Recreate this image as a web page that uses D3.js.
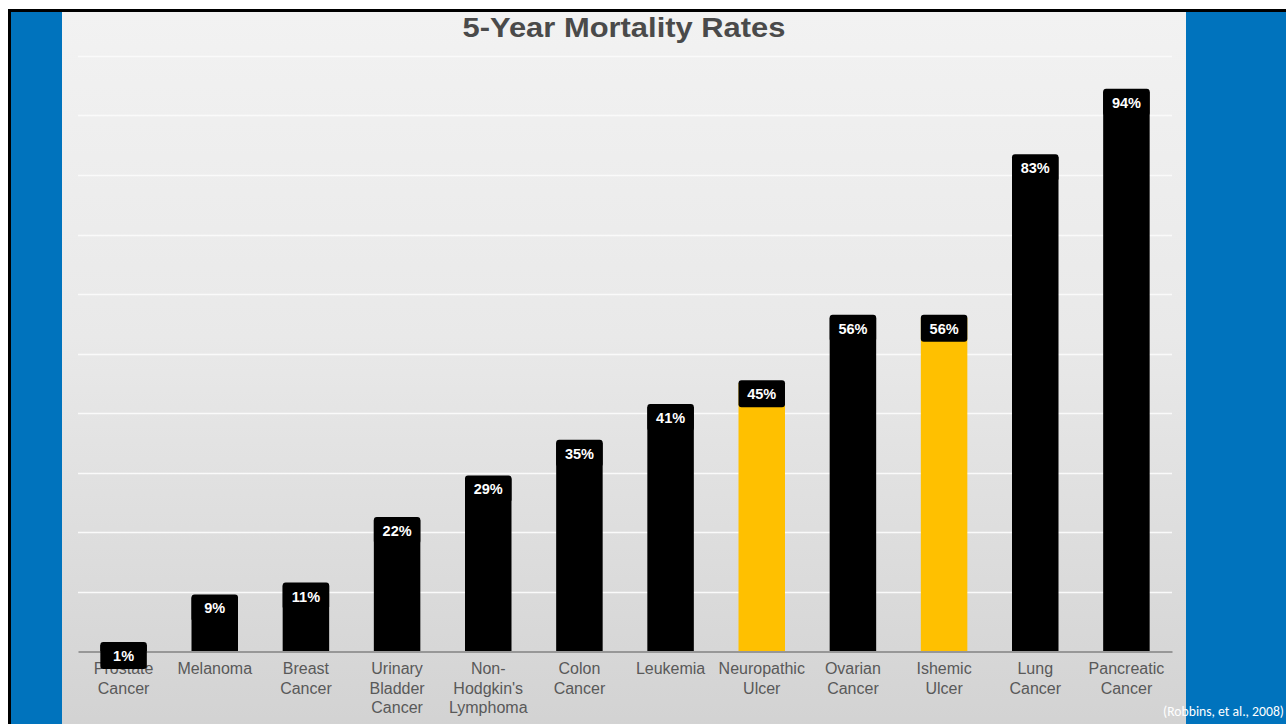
<!DOCTYPE html>
<html>
<head>
<meta charset="utf-8">
<script src="https://cdnjs.cloudflare.com/ajax/libs/d3/7.8.5/d3.min.js"></script>
<style>
  html, body { margin: 0; padding: 0; background: #fff; }
  svg { display: block; }
</style>
</head>
<body>
<div id="chart"></div>
<script>
const categories = ['Prostate\nCancer', 'Melanoma', 'Breast\nCancer', 'Urinary\nBladder\nCancer',
  'Non-\nHodgkin\'s\nLymphoma', 'Colon\nCancer', 'Leukemia', 'Neuropathic\nUlcer',
  'Ovarian\nCancer', 'Ishemic\nUlcer', 'Lung\nCancer', 'Pancreatic\nCancer'];
const values = [1, 9, 11, 22, 29, 35, 41, 45, 56, 56, 83, 94];
const highlighted = ['Neuropathic\nUlcer', 'Ishemic\nUlcer'];
const gridTicks = [10, 20, 30, 40, 50, 60, 70, 80, 90, 100];
const title = '5-Year Mortality Rates';
const source = '(Robbins, et al., 2008)';

const W = 1286, H = 724;
const svg = d3.select('#chart').append('svg')
  .attr('width', W).attr('height', H);

var defs = svg.append('defs');
var grad = defs.append('linearGradient')
  .attr('id', 'bg').attr('x1', 0).attr('y1', 0).attr('x2', 0).attr('y2', 1);
grad.append('stop').attr('offset', '0%').attr('stop-color', '#f2f2f2');
grad.append('stop').attr('offset', '45%').attr('stop-color', '#e9e9e9');
grad.append('stop').attr('offset', '100%').attr('stop-color', '#d2d2d2');

/* slide frame */
svg.append('rect').attr('x', 9.5).attr('y', 10.5).attr('width', W).attr('height', H)
  .attr('fill', '#0073bd').attr('stroke', '#000').attr('stroke-width', 3);
svg.append('rect').attr('x', 62).attr('y', 12).attr('width', 1124).attr('height', H)
  .attr('fill', 'url(#bg)');

/* scales */
var x = d3.scaleBand().domain(categories).range([78, 1172]).paddingInner(0.49).paddingOuter(0.245);
var y = d3.scaleLinear().domain([0, 100]).range([651, 56]);

/* gridlines */
svg.append('g').selectAll('line')
  .data(gridTicks).enter().append('line')
  .attr('x1', 78).attr('x2', 1172)
  .attr('y1', function(d) { return Math.round(y(d)) + 0.5; })
  .attr('y2', function(d) { return Math.round(y(d)) + 0.5; })
  .attr('stroke', '#fafafa').attr('stroke-width', 1.5);

/* bars */
var bars = svg.append('g');
bars.selectAll('rect')
  .data(values).enter().append('rect')
  .attr('x', function(d, i) { return x(categories[i]); })
  .attr('y', function(d) { return y(d); })
  .attr('width', x.bandwidth())
  .attr('height', function(d) { return y(0) - y(d); })
  .attr('fill', function(d, i) {
    return highlighted.indexOf(categories[i]) >= 0 ? '#ffc000' : '#000';
  });

/* axis baseline + category labels */
var axis = svg.append('g').attr('transform', 'translate(0,' + (y(0) + 0.5) + ')')
  .call(d3.axisBottom(x).tickSize(0).tickFormat(''));
axis.select('.domain').attr('stroke', '#595959').attr('stroke-width', 1.2);

var labels = svg.append('g');
categories.forEach(function(c) {
  var t = labels.append('text')
    .attr('x', x(c) + x.bandwidth() / 2)
    .attr('y', 674)
    .attr('text-anchor', 'middle')
    .attr('font-family', 'Liberation Sans, Arial, sans-serif')
    .attr('font-size', 16)
    .attr('fill', '#595959');
  c.split('\n').forEach(function(line, j) {
    t.append('tspan').attr('x', x(c) + x.bandwidth() / 2)
      .attr('dy', j === 0 ? 0 : 19.5).text(line);
  });
});

/* value labels */
var vl = svg.append('g');
values.forEach(function(v, i) {
  var cx = x(categories[i]) + x.bandwidth() / 2;
  var top = y(v) - 3;
  vl.append('rect')
    .attr('x', x(categories[i])).attr('y', top)
    .attr('width', x.bandwidth()).attr('height', 27)
    .attr('rx', 3)
    .attr('fill', '#000');
  vl.append('text')
    .attr('x', cx).attr('y', top + 19)
    .attr('text-anchor', 'middle')
    .attr('font-family', 'Liberation Sans, Arial, sans-serif')
    .attr('font-weight', 'bold')
    .attr('font-size', 14.5)
    .attr('fill', '#fff')
    .text(v + '%');
});

/* title */
svg.append('text')
  .attr('x', 624).attr('y', 37)
  .attr('text-anchor', 'middle')
  .attr('font-family', 'Liberation Sans, Arial, sans-serif')
  .attr('font-weight', 'bold')
  .attr('font-size', 28)
  .attr('textLength', 323)
  .attr('lengthAdjust', 'spacingAndGlyphs')
  .attr('fill', '#4a4a4a')
  .text(title);

/* source */
svg.append('text')
  .attr('x', 1284).attr('y', 716)
  .attr('text-anchor', 'end')
  .attr('font-family', 'Carlito, Open Sans, Noto Sans, sans-serif')
  .attr('font-size', 13.5)
  .attr('textLength', 121)
  .attr('lengthAdjust', 'spacingAndGlyphs')
  .attr('fill', '#fff')
  .text(source);
</script>
</body>
</html>
